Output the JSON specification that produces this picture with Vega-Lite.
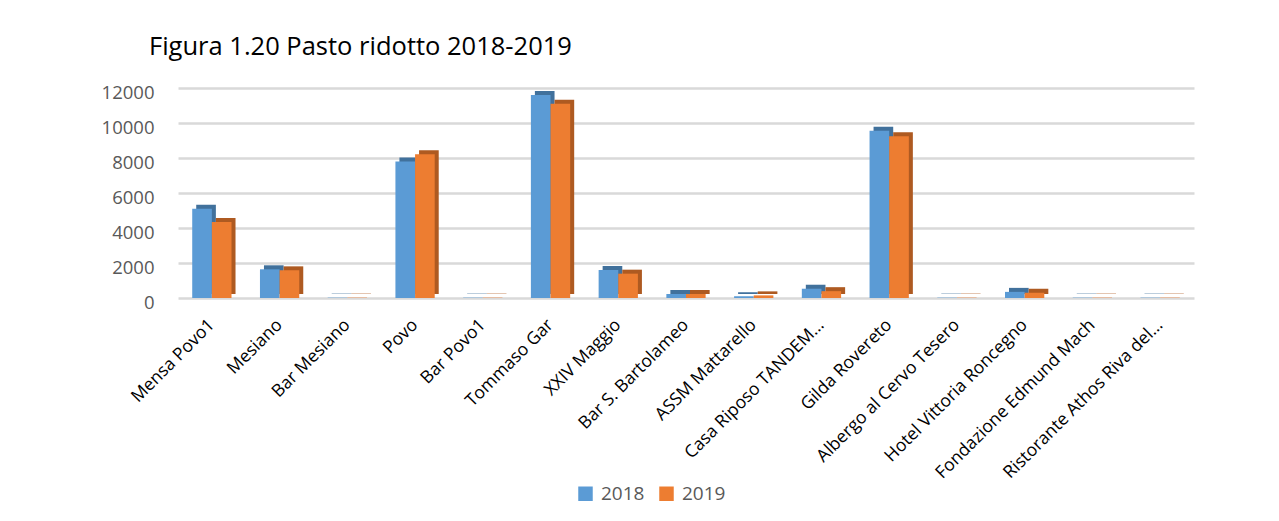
{
  "$schema": "https://vega.github.io/schema/vega-lite/v6.json",
  "autosize": "none",
  "width": 1016,
  "height": 210,
  "padding": {"left": 178, "top": 88, "right": 85, "bottom": 223},
  "background": "white",
  "title": {
    "text": "Figura 1.20 Pasto ridotto 2018-2019",
    "anchor": "start",
    "frame": "group",
    "dx": -29,
    "offset": 23,
    "font": "Open Sans",
    "fontSize": 25.5,
    "fontWeight": "normal",
    "color": "#000000"
  },
  "data": {
    "values": [
      {"locale": "Mensa Povo1", "anno": "2018", "pasti": 5100},
      {"locale": "Mensa Povo1", "anno": "2019", "pasti": 4340},
      {"locale": "Mesiano", "anno": "2018", "pasti": 1640},
      {"locale": "Mesiano", "anno": "2019", "pasti": 1580},
      {"locale": "Bar Mesiano", "anno": "2018", "pasti": 20},
      {"locale": "Bar Mesiano", "anno": "2019", "pasti": 20},
      {"locale": "Povo", "anno": "2018", "pasti": 7800},
      {"locale": "Povo", "anno": "2019", "pasti": 8220},
      {"locale": "Bar Povo1", "anno": "2018", "pasti": 20},
      {"locale": "Bar Povo1", "anno": "2019", "pasti": 20},
      {"locale": "Tommaso Gar", "anno": "2018", "pasti": 11600},
      {"locale": "Tommaso Gar", "anno": "2019", "pasti": 11100},
      {"locale": "XXIV Maggio", "anno": "2018", "pasti": 1600},
      {"locale": "XXIV Maggio", "anno": "2019", "pasti": 1390},
      {"locale": "Bar S. Bartolameo", "anno": "2018", "pasti": 230},
      {"locale": "Bar S. Bartolameo", "anno": "2019", "pasti": 230},
      {"locale": "ASSM Mattarello", "anno": "2018", "pasti": 100},
      {"locale": "ASSM Mattarello", "anno": "2019", "pasti": 150},
      {"locale": "Casa Riposo TANDEM…", "anno": "2018", "pasti": 530},
      {"locale": "Casa Riposo TANDEM…", "anno": "2019", "pasti": 390},
      {"locale": "Gilda Rovereto", "anno": "2018", "pasti": 9560},
      {"locale": "Gilda Rovereto", "anno": "2019", "pasti": 9250},
      {"locale": "Albergo al Cervo Tesero", "anno": "2018", "pasti": 20},
      {"locale": "Albergo al Cervo Tesero", "anno": "2019", "pasti": 20},
      {"locale": "Hotel Vittoria Roncegno", "anno": "2018", "pasti": 350},
      {"locale": "Hotel Vittoria Roncegno", "anno": "2019", "pasti": 300},
      {"locale": "Fondazione  Edmund Mach", "anno": "2018", "pasti": 20},
      {"locale": "Fondazione  Edmund Mach", "anno": "2019", "pasti": 20},
      {"locale": "Ristorante Athos Riva del…", "anno": "2018", "pasti": 20},
      {"locale": "Ristorante Athos Riva del…", "anno": "2019", "pasti": 20}
    ]
  },
  "encoding": {
    "x": {
      "field": "locale",
      "type": "nominal",
      "sort": null,
      "title": null,
      "scale": {"paddingInner": 0.42, "paddingOuter": 0.21},
      "axis": {
        "labelAngle": -45,
        "labelAlign": "right",
        "labelBaseline": "middle",
        "labelFont": "Open Sans",
        "labelFontSize": 17.5,
        "labelColor": "#000000",
        "labelPadding": 24,
        "labelLimit": 400,
        "domain": false,
        "ticks": false,
        "grid": false
      }
    },
    "y": {
      "field": "pasti",
      "type": "quantitative",
      "title": null,
      "scale": {"domain": [0, 12000], "nice": false},
      "axis": {
        "values": [0, 2000, 4000, 6000, 8000, 10000, 12000],
        "labelFont": "Open Sans",
        "labelFontSize": 18.5,
        "labelColor": "#595959",
        "labelPadding": 24,
        "labelOffset": 4,
        "domain": false,
        "ticks": false,
        "grid": true,
        "gridColor": "#d9d9d9",
        "gridWidth": 2.5,
        "format": "d"
      }
    }
  },
  "layer": [
    {
      "mark": {"type": "bar", "yOffset": -4, "y2Offset": -4},
      "encoding": {
        "xOffset": {
          "field": "anno",
          "type": "nominal",
          "scale": {"domain": ["2018", "2019"], "range": [4, 43.3]}
        },
        "color": {
          "field": "anno",
          "type": "nominal",
          "scale": {"domain": ["2018", "2019"], "range": ["#41719c", "#ae5a21"]},
          "legend": null
        }
      }
    },
    {
      "mark": {"type": "bar"},
      "encoding": {
        "xOffset": {
          "field": "anno",
          "type": "nominal",
          "scale": {"domain": ["2018", "2019"]}
        },
        "color": {
          "field": "anno",
          "type": "nominal",
          "scale": {"domain": ["2018", "2019"], "range": ["#5b9bd5", "#ed7d31"]},
          "legend": {
            "title": null,
            "orient": "none",
            "direction": "horizontal",
            "legendX": 398,
            "legendY": 396,
            "symbolType": "square",
            "symbolSize": 210,
            "symbolStrokeWidth": 0,
            "labelFont": "Open Sans",
            "labelFontSize": 19,
            "labelColor": "#595959",
            "columnPadding": 12,
            "labelOffset": 6
          }
        }
      }
    }
  ],
  "resolve": {"scale": {"color": "independent", "xOffset": "independent"}},
  "config": {"view": {"stroke": null}}
}
